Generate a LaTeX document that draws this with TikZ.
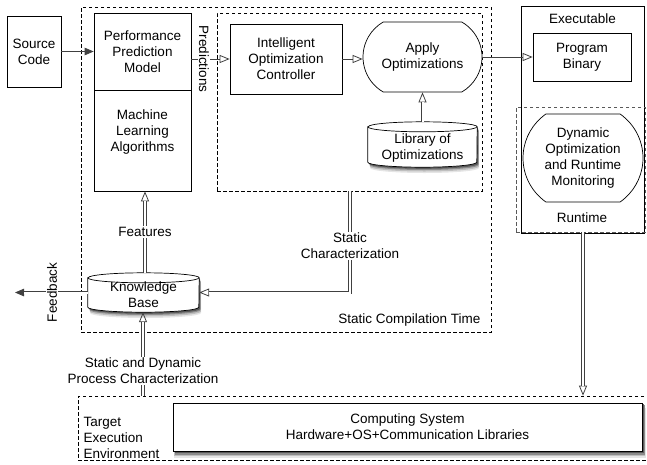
\documentclass[tikz,border=0pt]{standalone}
\usepackage{fontspec}
\setmainfont{Liberation Sans}
\usetikzlibrary{arrows.meta,shapes.misc,calc}
\newcommand\cylp[4]{([xshift=#3,yshift=#4-5pt]#1.north west) -- ([xshift=#3,yshift=#4+5pt]#1.south west)
  arc[start angle=180, end angle=360, x radius=#2, y radius=5pt]
  -- ([xshift=#3,yshift=#4-5pt]#1.north east)
  arc[start angle=0, end angle=180, x radius=#2, y radius=5pt] -- cycle}
\newcommand\cyls[7]{({#1+#6},{#3+5+#7}) -- ({#1+#6},{#4-5+#7})
  arc[start angle=180, end angle=360, x radius=#5pt, y radius=5pt]
  -- ({#2+#6},{#3+5+#7})
  arc[start angle=0, end angle=180, x radius=#5pt, y radius=5pt] -- cycle}
\begin{document}
\begin{tikzpicture}[x=1pt,y=-1pt,
  every node/.style={font=\fontsize{13.5}{16}\selectfont, align=center},
  box/.style={draw, line width=0.7pt, fill=white, inner sep=0pt},
  dbox/.style={draw, dash pattern=on 3.5pt off 2.5pt, line width=0.7pt, inner sep=0pt},
  rbox/.style={draw, rounded rectangle, line width=0.7pt, fill=white, inner sep=0pt},
  conn/.style={draw=black!75, line width=0.8pt},
  otip/.style={-{Triangle[open,length=10pt,width=8pt,line width=0.8pt]}},
  ftip/.style={-{Triangle[length=9pt,width=7.5pt]}},
  dshaft/.style={draw=black!75, double=white, double distance=2pt, line width=0.75pt},
  lbl/.style={fill=white, inner sep=1.5pt},
  sh1/.style={fill=black!10},
  sh2/.style={fill=black!25},
  sh3/.style={fill=black!45},
  sh4/.style={fill=black!65},
  cylpath/.style={draw, line width=0.7pt, fill=white},
]
\useasboundingbox (0,0) rectangle (647,464);

% containers
\node[dbox, minimum width=410pt, minimum height=325pt] (sct) at (286,169.5) {};
\node[dbox, minimum width=265pt, minimum height=178pt] (inner) at (349.5,102) {};
\node[draw, line width=0.7pt, inner sep=0pt, minimum width=123pt, minimum height=227pt] (exe) at (582.5,119.5) {};
\node[dbox, draw=black!65, minimum width=129pt, minimum height=125pt] (rt) at (580.5,169.5) {};
\node[dbox, minimum width=572pt, minimum height=64pt] (tee) at (364,428) {};

% shadow of the computing system box
\fill[sh1] (173.5,408) rectangle (646,458);
\fill[sh2] (174,406.5) rectangle (645,456);
\fill[sh3] (174.5,405) rectangle (644.5,454.5);
\fill[sh4] (175,404) rectangle (643.5,453);

% shadows of the cylinders
\fill[sh1] \cyls{368}{477}{122}{167}{54.5}{2}{6};
\fill[sh2] \cyls{368}{477}{122}{167}{54.5}{1.8}{4.5};
\fill[sh3] \cyls{368}{477}{122}{167}{54.5}{1.5}{3};
\fill[sh4] \cyls{368}{477}{122}{167}{54.5}{1.2}{1.8};
\fill[sh1] \cyls{88}{199}{273}{312}{55.5}{2}{6};
\fill[sh2] \cyls{88}{199}{273}{312}{55.5}{1.8}{4.5};
\fill[sh3] \cyls{88}{199}{273}{312}{55.5}{1.5}{3};
\fill[sh4] \cyls{88}{199}{273}{312}{55.5}{1.2}{1.8};

% boxes
\node[box, minimum width=54pt, minimum height=71pt] (src) at (34,51.5) {Source\\Code};
\node[box, minimum width=97pt, minimum height=77pt] (ppm) at (142.5,51.5) {Performance\\Prediction\\Model};
\node[box, minimum width=97pt, minimum height=101pt] (ml) at (142.5,140.5) {};
\node (mlt) at (142.5,132) {Machine\\Learning\\Algorithms};
\node[box, minimum width=112pt, minimum height=70pt] (ioc) at (286,59) {Intelligent\\Optimization\\Controller};
\node[rbox, rounded rectangle arc length=120, minimum width=119pt, minimum height=70pt] (apply) at (422.5,57) {Apply\\Optimizations};
\node[box, minimum width=98pt, minimum height=48pt] (pb) at (582,57) {Program\\Binary};
\node[rbox, rounded rectangle arc length=110, minimum width=120pt, minimum height=88pt] (dyn) at (583,158) {Dynamic\\Optimization\\and Runtime\\Monitoring};
\node[box, minimum width=469pt, minimum height=48pt] (cs) at (407.5,427) {Computing System\\Hardware+OS+Communication Libraries};

% cylinders
\node[minimum width=109pt, minimum height=45pt, inner sep=0pt] (lib) at (422.5,144.5) {};
\path[cylpath] \cylp{lib}{54.5pt}{0pt}{0pt};
\draw[line width=0.7pt] ([yshift=-5pt]lib.north west) arc[start angle=180, end angle=360, x radius=54.5pt, y radius=5pt];
\node (libt) at (422.5,148) {Library of\\Optimizations};

\node[minimum width=111pt, minimum height=39pt, inner sep=0pt] (kb) at (143.5,292.5) {};
\path[cylpath] \cylp{kb}{55.5pt}{0pt}{0pt};
\draw[line width=0.7pt] ([yshift=-5pt]kb.north west) arc[start angle=180, end angle=360, x radius=55.5pt, y radius=5pt];
\node (kbt) at (143.5,295) {Knowledge\\Base};

% plain labels
\node (exel) at (582.5,19) {Executable};
\node (rtl) at (582,218) {Runtime};
\node[anchor=east] (sctl) at (484,320) {Static Compilation Time};
\node[anchor=west, align=left] (teel) at (80,437.5) {Target\\Execution\\Environment};

% connectors
\draw[conn, ftip] (src.east) -- (src.east -| ppm.west);
\draw[conn, otip] (ppm.east |- ioc.west) -- (ioc.west);
\draw[conn, otip] (ioc.east) -- (ioc.east -| apply.west);
\draw[conn, otip] (apply.east) -- (apply.east -| pb.west);

\draw[conn, otip] (lib.north) -- (apply.south);
\draw[dshaft, shorten >=10pt] (lib.north) -- (apply.south);

\coordinate (fx) at (145,0);
\draw[conn, otip] (kb.north -| fx) -- (fx |- ml.south);
\draw[dshaft, shorten >=10pt] (kb.north -| fx) -- (fx |- ml.south);

\coordinate (scx) at (350,0);
\draw[conn, otip] (scx |- inner.south) |- (kb.east);
\draw[dshaft, shorten >=10pt] (scx |- inner.south) |- (kb.east);

\coordinate (fb) at (15,292.5);
\draw[conn, ftip] (kb.west) -- (fb);
\draw[dshaft, shorten >=9pt] (kb.west) -- (fb);

\coordinate (sdx) at (143,0);
\draw[conn, otip] (sdx |- tee.north) -- (sdx |- kb.south);
\draw[dshaft, shorten >=10pt] (sdx |- tee.north) -- (sdx |- kb.south);

\draw[conn, otip] (dyn |- rt.south) -- (dyn |- tee.north);
\draw[dshaft, shorten >=10pt] (dyn |- rt.south) -- (dyn |- tee.north);

% connector labels
\node[lbl, rotate=-90] (predl) at (204,59) {Predictions};
\node[lbl] (featl) at (145,232) {Features};
\node[lbl] (scl) at (350,246) {Static\\Characterization};
\node[lbl, rotate=90] (fbl) at (52,292.5) {Feedback};
\node[lbl] (sdl) at (143,371) {Static and Dynamic\\Process Characterization};
\end{tikzpicture}
\end{document}
